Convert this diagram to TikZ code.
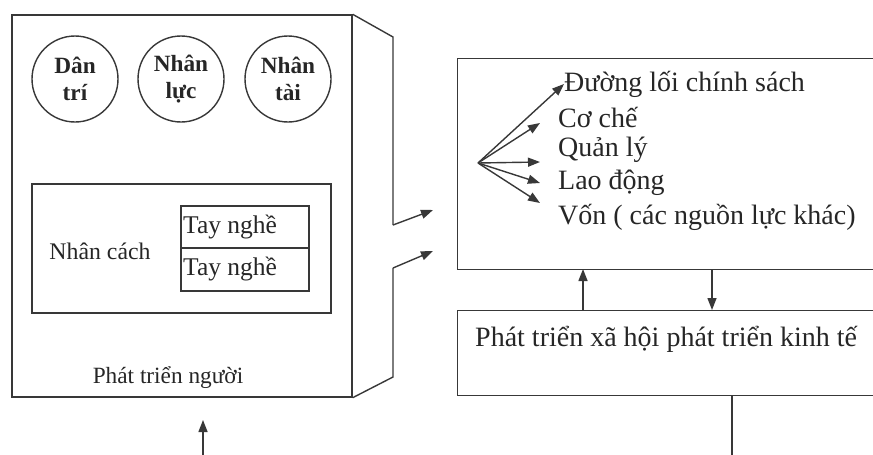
\documentclass[tikz,border=0pt]{standalone}
\usepackage{fontspec}
\setmainfont{Liberation Serif}
\usetikzlibrary{arrows.meta}
\begin{document}
\begin{tikzpicture}[x=1pt,y=-1pt,
  line/.style={draw=black!78, line width=1.4pt},
  box/.style={line, rectangle, inner sep=0pt},
  circ/.style={line, circle, minimum size=86pt, inner sep=0pt, align=center,
    font=\fontsize{23.3}{27}\selectfont\bfseries, text=black!85},
  lbl/.style={text=black!85, inner sep=0pt},
  big/.style={lbl, anchor=west, font=\fontsize{28}{32}\selectfont},
  arr/.style={line, -{Triangle[length=12pt,width=9pt]}},
]
\useasboundingbox (0,0) rectangle (873,455);
% main left box
\node[box, minimum width=340pt, minimum height=382pt] (main) at (182,206) {};
\node[circ] (dan) at (75,79) {Dân\\trí};
\node[circ] (luc) at (181,79) {Nhân\\lực};
\node[circ] (tai) at (288,79) {Nhân\\tài};
\node[box, minimum width=299pt, minimum height=129pt] (inner) at (181.5,248.5) {};
\node[box, minimum width=128pt, minimum height=42pt] (tn1) at (245,227) {};
\node[box, minimum width=128pt, minimum height=43pt] (tn2) at (245,269.5) {};
\node[lbl, anchor=west, font=\fontsize{25.5}{28}\selectfont] at (183,227) {Tay nghề};
\node[lbl, anchor=west, font=\fontsize{25.5}{28}\selectfont] at (183,269) {Tay nghề};
\node[lbl, font=\fontsize{23.8}{26}\selectfont] (nc) at (100,251) {Nhân cách};
\node[lbl, font=\fontsize{23.3}{26}\selectfont] (ptn) at (168,378) {Phát triển người};
% 3D side
\coordinate (s1) at (393,37);
\coordinate (s2) at (393,225);
\coordinate (s3) at (393,268);
\coordinate (s4) at (393,377);
\coordinate (a1) at (433,210);
\coordinate (a2) at (433,251);
\draw[line, line join=miter] (main.north east) -- (s1) -- (s2);
\draw[arr] (s2) -- (a1);
\draw[arr] (s3) -- (a2);
\draw[line] (s3) -- (s4) -- (main.south east);
% right boxes (cut off by the right edge)
\begin{scope}
\clip (0,0) rectangle (873,455);
\node[box, minimum width=460pt, minimum height=211pt, anchor=north west] (top) at (457,58) {};
\node[box, minimum width=460pt, minimum height=85pt, anchor=north west] (bot) at (457,310) {};
\end{scope}
\coordinate (fan) at (478,163);
\node[big] (l1) at (564,84) {Đường lối chính sách};
\node[big] (l2) at (558,117) {Cơ chế};
\node[big] (l3) at (558,150) {Quản lý};
\node[big] (l4) at (558,183) {Lao động};
\node[big] (l5) at (558,217) {Vốn ( các nguồn lực khác)};
\coordinate (t2) at (540,123);
\coordinate (t3) at (540,162);
\coordinate (t4) at (540,183);
\coordinate (t5) at (540,203);
\draw[arr] (fan) -- (l1.west);
\draw[arr] (fan) -- (t2);
\draw[arr] (fan) -- (t3);
\draw[arr] (fan) -- (t4);
\draw[arr] (fan) -- (t5);
\node[big] (px) at (475,339) {Phát triển xã hội phát triển kinh tế};
% vertical connectors
\coordinate (u1) at (583,310);
\coordinate (u2) at (583,269);
\coordinate (d1) at (712,269);
\coordinate (d2) at (712,310);
\coordinate (v1) at (732,395);
\coordinate (v2) at (732,455);
\coordinate (b1) at (203,455);
\coordinate (b2) at (203,420);
\draw[arr] (u1) -- (u2);
\draw[arr] (d1) -- (d2);
\draw[line] (v1) -- (v2);
\draw[arr] (b1) -- (b2);
\end{tikzpicture}
\end{document}
